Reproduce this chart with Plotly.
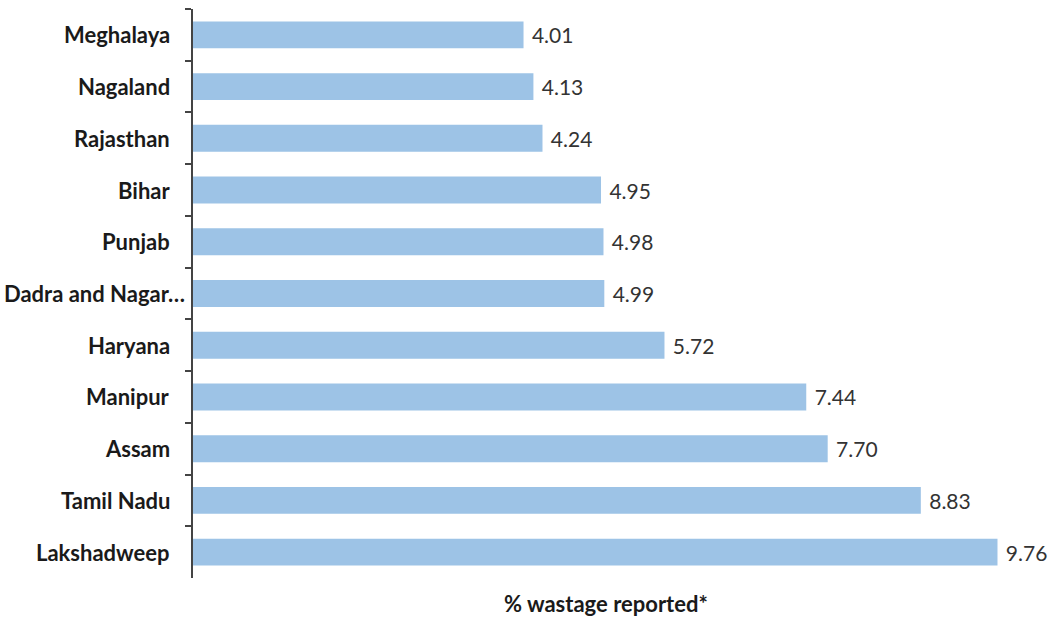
import plotly.graph_objects as go

states = ["Meghalaya", "Nagaland", "Rajasthan", "Bihar", "Punjab", "Dadra and Nagar…",
          "Haryana", "Manipur", "Assam", "Tamil Nadu", "Lakshadweep"]
wastage = [4.01, 4.13, 4.24, 4.95, 4.98, 4.99, 5.72, 7.44, 7.70, 8.83, 9.76]
labels = [f" {v:.2f}" for v in wastage]
x_title = "% wastage reported*"

FONT = "Lato, Open Sans, sans-serif"

fig = go.Figure(go.Bar(
    x=wastage, y=states, orientation="h",
    marker=dict(color="#9dc3e6", line=dict(width=0)),
    width=0.52,
    text=labels, textposition="outside", cliponaxis=False,
    textfont=dict(family=FONT, size=21, color="#333333"),
))

# category labels placed via the y scale (Excel lets the truncated label run closer to the axis)
annotations = []
for s in states:
    annotations.append(dict(
        text=f"<b>{s}</b>", xref="paper", yref="y", x=0, y=s,
        xanchor="right", yanchor="middle", showarrow=False,
        xshift=(-6 if s.endswith("…") else -21),
        font=dict(family=FONT, size=22, color="#1a1a1a"),
    ))
annotations.append(dict(text=f"<b>{x_title}</b>", xref="paper", yref="paper",
                        x=0.486, y=0, yshift=-25, yanchor="middle", xanchor="center",
                        showarrow=False,
                        font=dict(family=FONT, size=22, color="#1a1a1a")))

fig.update_layout(
    width=1049, height=617,
    margin=dict(l=193, r=7, t=9, b=39, autoexpand=False),
    paper_bgcolor="white", plot_bgcolor="white",
    showlegend=False,
    xaxis=dict(range=[0, 10.3], showgrid=False, zeroline=False, showticklabels=False,
               ticks="", showline=False, automargin=False),
    yaxis=dict(autorange="reversed", showgrid=False, zeroline=False, automargin=False,
               showline=True, linecolor="#444444", linewidth=1.5,
               ticks="outside", ticklen=6, tickcolor="#444444", tickwidth=1.5,
               tickson="boundaries", showticklabels=False),
    annotations=annotations,
)

fig.write_html("out.html", config={"displayModeBar": False},
               post_script="document.body.style.margin='0';document.body.style.overflow='hidden';")
